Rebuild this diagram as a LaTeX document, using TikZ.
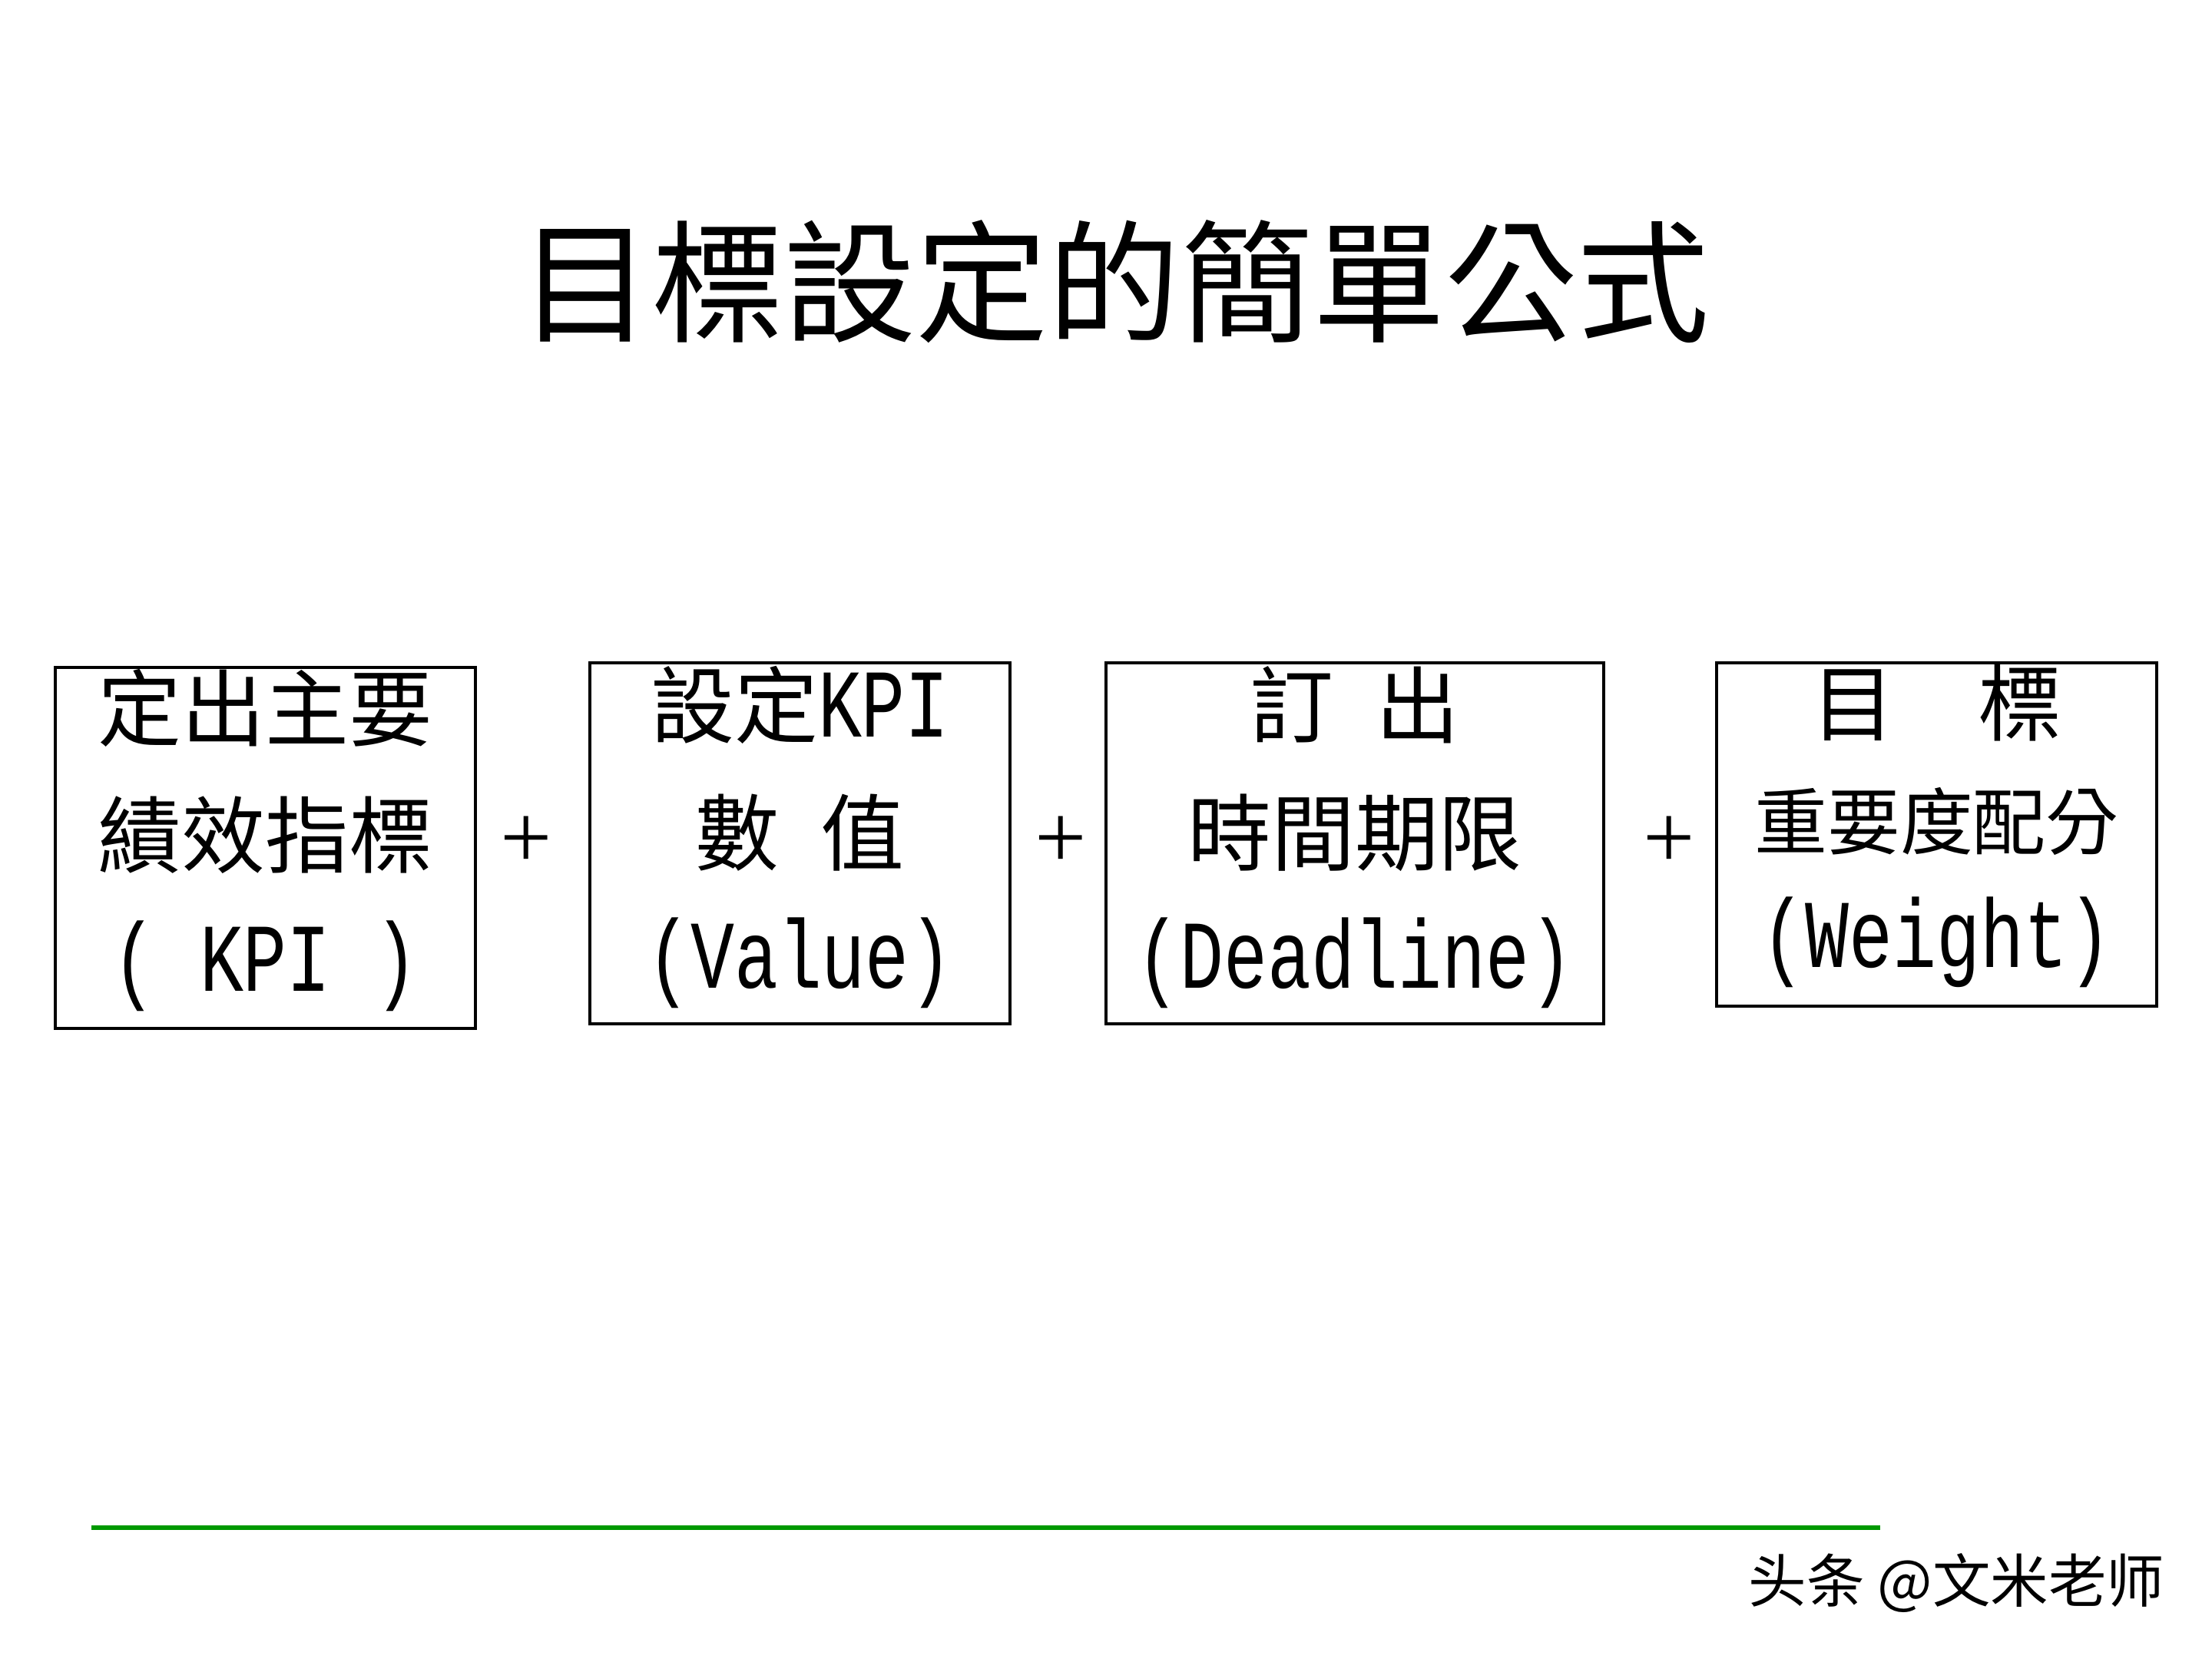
\documentclass[tikz,border=0pt]{standalone}
\usepackage{fontspec}
\newfontfamily\cjk{Noto Sans CJK TC}
\newfontfamily\cjksc{Noto Sans CJK SC}
\newfontfamily\lat[FakeStretch=0.75]{Liberation Mono}
\newfontfamily\plusf{Liberation Serif}
\newcommand\titlefont{\cjk\fontsize{49pt}{49pt}\selectfont}
\newcommand\bc{\cjk\fontsize{31pt}{31pt}\selectfont}
\newcommand\bcs{\cjk\fontsize{27pt}{27pt}\selectfont}
\newcommand\bl{\lat\fontsize{36pt}{36pt}\selectfont}
\definecolor{lineGreen}{RGB}{0,153,0}
\tikzset{
  kbox/.style={draw=black, line width=1pt, rectangle, inner sep=0pt},
  ktext/.style={inner sep=0pt, anchor=center},
  kplus/.style={inner sep=0pt, font=\plusf\fontsize{34pt}{34pt}\selectfont},
}
\begin{document}
\begin{tikzpicture}
\useasboundingbox (0,0) rectangle (28.8,21.6);
\fill[white] (0,0) rectangle (28.8,21.6);

% title
\node[ktext, font=\titlefont] (title) at (14.51,17.93) {目標設定的簡單公式};

% boxes
\node[kbox, minimum width=5.47cm, minimum height=4.70cm] (b1) at (3.455,10.56) {};
\node[kbox, minimum width=5.47cm, minimum height=4.70cm] (b2) at (10.415,10.62) {};
\node[kbox, minimum width=6.48cm, minimum height=4.70cm] (b3) at (17.64,10.62) {};
\node[kbox, minimum width=5.73cm, minimum height=4.47cm] (b4) at (25.215,10.735) {};

% box 1 text
\node[ktext, font=\bc] (t11) at (3.455,12.38) {定出主要};
\node[ktext, font=\bc] (t12) at (3.455,10.73) {績效指標};
\node[ktext, font=\bl] (t13) at (3.455,9.02) {( KPI )};

% box 2 text
\node[ktext] (t21) at (10.415,12.42) {{\bc 設定}{\bl KPI}};
\node[ktext, font=\bc] (t22) at (10.415,10.76) {數\hspace{0.5em}值};
\node[ktext, font=\bl] (t23) at (10.415,9.06) {(Value)};

% box 3 text
\node[ktext, font=\bc] (t31) at (17.64,12.42) {訂\hspace{0.5em}出};
\node[ktext, font=\bc] (t32) at (17.64,10.76) {時間期限};
\node[ktext, font=\bl] (t33) at (17.64,9.06) {(Deadline)};

% box 4 text
\node[ktext, font=\bc] (t41) at (25.215,12.45) {目\hspace{1em}標};
\node[ktext, font=\bcs] (t42) at (25.215,10.91) {重要度配分};
\node[ktext, font=\bl] (t43) at (25.215,9.33) {(Weight)};

% plus signs
\node[kplus] (p1) at (6.85,10.63) {+};
\node[kplus] (p2) at (13.81,10.63) {+};
\node[kplus] (p3) at (21.73,10.63) {+};

% green line
\coordinate (gl) at (1.19,1.71);
\coordinate (gr) at (24.48,1.71);
\draw[lineGreen, line width=0.06cm] (gl) -- (gr);

% watermark
\node[inner sep=0pt, anchor=east, font=\cjksc\fontsize{21.5pt}{21.5pt}\selectfont] (wm) at (28.19,0.99) {头条 @文米老师};
\end{tikzpicture}
\end{document}
